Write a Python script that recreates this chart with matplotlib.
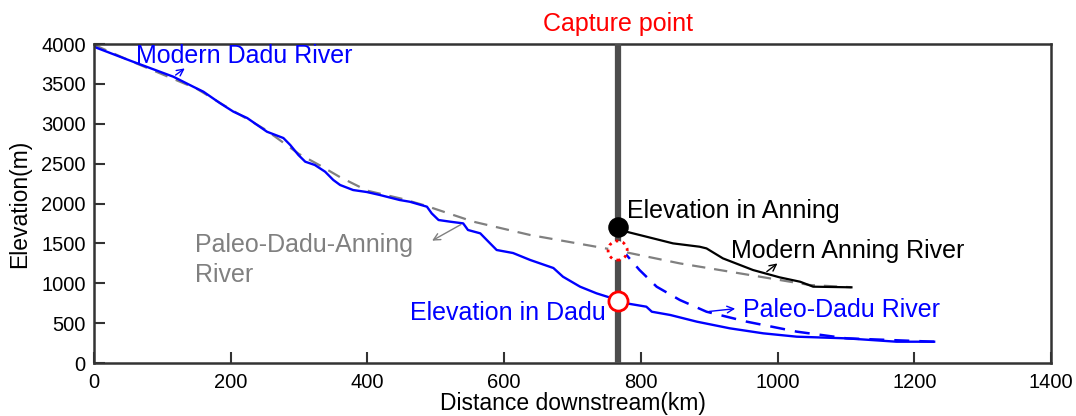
import matplotlib
matplotlib.use('Agg')
import matplotlib.pyplot as plt

plt.rcParams['font.family'] = ['Liberation Sans', 'DejaVu Sans']

# Modern Dadu River (km, m)
dadu_x = [0, 2, 57, 116, 145, 160, 184, 204, 224, 253, 277, 287, 299, 309, 323, 338, 350, 360,
          379, 399, 418, 447, 462, 487, 494, 504, 521, 540, 547, 565, 577, 589, 613, 638, 672,
          686, 711, 735, 766, 779, 808, 816, 843, 882, 930, 979, 1028, 1101, 1174, 1229]
dadu_y = [3975, 3958, 3778, 3590, 3465, 3402, 3260, 3151, 3072, 2900, 2821, 2734, 2608, 2524,
          2483, 2399, 2295, 2232, 2169, 2144, 2107, 2044, 2022, 1960, 1876, 1793, 1772, 1751,
          1668, 1626, 1521, 1417, 1379, 1292, 1191, 1082, 957, 874, 790, 748, 706, 643, 602,
          518, 435, 372, 330, 309, 267, 267]

# Paleo-Dadu-Anning River
paleo_da_x = [0, 50, 100, 150, 200, 250, 300, 330, 360, 400, 450, 482, 555, 638, 766, 857,
              1003, 1047, 1108]
paleo_da_y = [3990, 3800, 3620, 3440, 3180, 2930, 2620, 2480, 2330, 2160, 2060, 1981, 1772,
              1605, 1410, 1249, 1041, 978, 950]

# Modern Anning River
anning_x = [766, 779, 808, 847, 886, 896, 920, 964, 1003, 1033, 1052, 1108]
anning_y = [1701, 1646, 1584, 1500, 1458, 1437, 1312, 1166, 1074, 1019, 957, 949]

# Paleo-Dadu River
paleo_d_x = [766, 779, 798, 823, 857, 896, 955, 1028, 1101, 1229]
paleo_d_y = [1410, 1354, 1166, 957, 790, 643, 518, 393, 309, 267]

capture_x = 766
elev_anning = 1701
elev_paleo = 1410
elev_dadu = 775

fig = plt.figure(figsize=(10.76, 4.16), dpi=100)
ax = fig.add_axes([0.0874, 0.1274, 0.8894, 0.7668])

ax.plot(paleo_da_x, paleo_da_y, color='#808080', lw=1.6, ls=(0, (6, 4)), zorder=2)
ax.plot(dadu_x, dadu_y, color='#0000ff', lw=1.7, zorder=2)
ax.plot(anning_x, anning_y, color='black', lw=1.6, zorder=2)
ax.plot(paleo_d_x, paleo_d_y, color='#0000ff', lw=1.8, ls=(0, (6, 4)), zorder=2)

ax.axvline(capture_x, color='#4d4d4d', lw=4.5, zorder=3)

ax.scatter([capture_x], [elev_anning], s=190, color='black', zorder=5)
ax.scatter([capture_x], [elev_dadu], s=190, facecolor='white', edgecolor='red', lw=2, zorder=5)
ax.scatter([capture_x], [elev_paleo], s=190, facecolor='white', edgecolor='red', lw=2,
           linestyle=':', zorder=5)

fs = 18
ax.text(62, 3758, 'Modern Dadu River', color='#0000ff', fontsize=fs)
ax.text(148, 1396, 'Paleo-Dadu-Anning', color='#808080', fontsize=fs)
ax.text(148, 1019, 'River', color='#808080', fontsize=fs)
ax.text(779, 1814, 'Elevation in Anning', color='black', fontsize=fs)
ax.text(932, 1313, 'Modern Anning River', color='black', fontsize=fs)
ax.text(949, 581, 'Paleo-Dadu River', color='#0000ff', fontsize=fs)
ax.text(748, 539, 'Elevation in Dadu', color='#0000ff', fontsize=fs, ha='right')
ax.text(capture_x, 4163, 'Capture point', color='red', fontsize=fs, ha='center', clip_on=False)

arr = dict(arrowstyle='->', lw=1.0, mutation_scale=12)
ax.annotate('', xy=(136, 3715), xytext=(116, 3590), arrowprops=dict(arr, color='#0000ff'))
ax.annotate('', xy=(491, 1517), xytext=(540, 1752), arrowprops=dict(arr, color='#808080'))
ax.annotate('', xy=(1003, 1270), xytext=(981, 1125), arrowprops=dict(arr, color='black'))
ax.annotate('', xy=(942, 685), xytext=(896, 643), arrowprops=dict(arr, color='#0000ff'))

ax.set_xlim(0, 1400)
ax.set_ylim(0, 4000)
ax.set_xticks(range(0, 1401, 200))
ax.set_yticks(range(0, 4001, 500))
ax.tick_params(direction='in', length=8, width=1.5, color='#333333', labelsize=14.5)
ax.tick_params(axis='x', pad=7)
ax.tick_params(axis='y', pad=6)
for s in ax.spines.values():
    s.set_linewidth(1.8)
    s.set_color('#333333')
ax.set_xlabel('Distance downstream(km)', fontsize=16.5, labelpad=0)
ax.set_ylabel('Elevation(m)', fontsize=16.5, labelpad=7)

fig.savefig('out.png', dpi=100)
